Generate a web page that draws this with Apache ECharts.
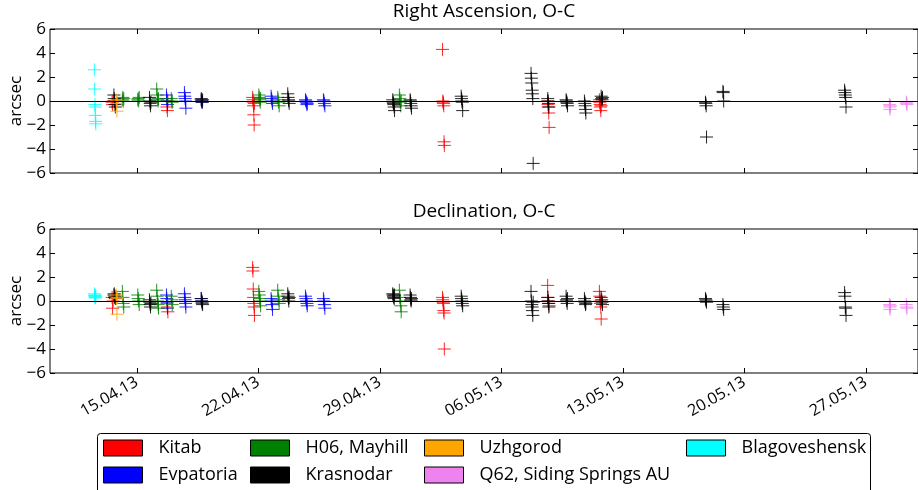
<!DOCTYPE html>
<html>
<head>
<meta charset="utf-8">
<script src="https://cdn.jsdelivr.net/npm/echarts@6/dist/echarts.min.js"></script>
<style>
  html, body { margin: 0; padding: 0; background: #fff; }
  #chart { width: 918px; height: 490px; }
</style>
</head>
<body>
<div id="chart"></div>
<script>
// observations: [time 'MM-DD HH:MM' (2013), RA O-C, Dec O-C] in arcsec
const kitab = [
  ['04-13 13:50', -0.1, 0.3], ['04-13 14:30', -0.3, -0.6], ['04-13 15:10', 0.0, 0.0],
  ['04-16 17:40', -0.5, -0.2], ['04-16 18:20', -0.8, -0.5], ['04-16 19:00', 0.0, -0.9],
  ['04-21 16:10', 0.3, 2.8], ['04-21 16:35', 0.1, 2.5], ['04-21 17:00', -0.1, 1.0],
  ['04-21 17:25', -0.4, 0.3], ['04-21 17:50', -1.15, -0.2], ['04-21 18:15', -2.0, -0.5],
  ['04-21 18:40', -0.2, -1.2],
  ['05-02 14:40', 4.3, 0.3], ['05-02 15:05', 0.0, 0.1], ['05-02 15:30', -0.1, -0.1],
  ['05-02 15:55', -0.2, -0.2], ['05-02 16:20', -0.4, -0.8], ['05-02 16:45', -3.4, -1.0],
  ['05-02 17:10', -3.7, -4.0],
  ['05-08 16:00', 0.0, 1.3], ['05-08 16:30', -0.3, 0.3], ['05-08 17:00', -0.5, 0.0],
  ['05-08 17:30', -1.0, -0.2], ['05-08 18:00', -2.2, -0.4],
  ['05-11 15:30', 0.1, 0.8], ['05-11 16:00', -0.1, 0.4], ['05-11 16:30', -0.3, 0.0],
  ['05-11 17:00', -0.5, -0.2], ['05-11 17:30', -0.8, -0.5], ['05-11 18:00', -0.4, -1.5]
];
const evpatoria = [
  ['04-16 17:00', 0.5, 0.5], ['04-16 17:30', 0.2, 0.2], ['04-16 18:00', 0.0, -0.1], ['04-16 18:30', -0.3, -0.6],
  ['04-17 17:50', 0.7, 0.6], ['04-17 18:20', 0.4, 0.3], ['04-17 18:50', 0.2, 0.1],
  ['04-17 19:20', 0.0, -0.2], ['04-17 19:50', -0.6, -0.5],
  ['04-18 17:00', 0.1, 0.2], ['04-18 17:40', 0.0, 0.0], ['04-18 18:20', -0.1, -0.2],
  ['04-22 17:40', 0.4, 0.2], ['04-22 18:20', 0.2, 0.0], ['04-22 19:00', 0.0, -0.3], ['04-22 19:40', -0.2, -0.7],
  ['04-24 17:10', 0.1, 0.4], ['04-24 17:50', 0.0, 0.2], ['04-24 18:30', -0.1, 0.0],
  ['04-24 19:10', -0.3, -0.2], ['04-24 19:40', -0.2, -0.4],
  ['04-25 18:00', 0.1, 0.2], ['04-25 18:40', 0.0, 0.0], ['04-25 19:20', -0.2, -0.3], ['04-25 20:00', -0.4, -0.6]
];
const mayhill = [
  ['04-14 04:00', 0.1, 0.8], ['04-14 04:40', 0.3, 0.3], ['04-14 05:20', 0.0, -0.2], ['04-14 06:00', 0.2, -0.5],
  ['04-15 01:20', 0.1, 0.5], ['04-15 02:00', 0.2, 0.2], ['04-15 02:40', 0.0, 0.0], ['04-15 03:20', 0.3, -0.3],
  ['04-16 03:30', 1.0, 0.9], ['04-16 04:10', 0.5, 0.4], ['04-16 04:50', 0.1, 0.0],
  ['04-16 05:30', 0.0, -0.3], ['04-16 06:00', 0.2, -0.6],
  ['04-16 23:40', 0.2, 0.4], ['04-17 00:20', 0.0, 0.1], ['04-17 01:00', -0.1, -0.3],
  ['04-22 00:40', 0.5, 0.8], ['04-22 01:20', 0.3, 0.5], ['04-22 02:00', 0.1, 0.2],
  ['04-22 02:40', -0.1, 0.0], ['04-22 03:10', 0.2, -0.4],
  ['04-23 02:50', 0.3, 0.9], ['04-23 03:30', 0.1, 0.4], ['04-23 04:10', -0.1, 0.1], ['04-23 04:50', -0.4, -0.2],
  ['04-30 03:00', 0.5, 0.9], ['04-30 03:40', 0.2, 0.3], ['04-30 04:20', -0.1, 0.0],
  ['04-30 05:00', -0.4, -0.4], ['04-30 05:30', 0.0, -0.9]
];
const krasnodar = [
  ['04-13 16:20', 0.5, 0.5], ['04-13 16:50', 0.2, 0.6], ['04-13 17:20', 0.0, 0.3],
  ['04-13 17:50', -0.3, 0.4], ['04-13 18:20', -0.5, 0.2],
  ['04-15 17:30', 0.3, 0.1], ['04-15 18:00', 0.0, -0.1], ['04-15 18:30', -0.2, -0.3],
  ['04-15 19:00', -0.4, -0.5], ['04-15 19:30', -0.1, -0.2],
  ['04-18 17:10', 0.2, 0.2], ['04-18 17:50', 0.0, 0.0], ['04-18 18:30', -0.1, -0.1], ['04-18 19:00', 0.1, -0.3],
  ['04-23 16:40', 0.6, 0.6], ['04-23 17:10', 0.3, 0.4], ['04-23 17:40', 0.1, 0.2],
  ['04-23 18:10', 0.0, 0.0], ['04-23 18:40', -0.2, 0.3],
  ['04-29 17:50', 0.1, 0.6], ['04-29 18:20', -0.1, 0.5], ['04-29 18:50', -0.2, 0.4],
  ['04-29 19:20', -0.3, 0.3], ['04-29 19:50', -0.5, 0.2], ['04-29 20:20', -0.8, 0.5],
  ['04-30 17:50', 0.1, 0.5], ['04-30 18:20', 0.0, 0.3], ['04-30 18:50', -0.2, 0.1],
  ['04-30 19:20', -0.4, 0.0], ['04-30 19:50', -0.6, 0.2],
  ['05-03 16:30', 0.4, 0.4], ['05-03 17:00', 0.2, 0.2], ['05-03 17:30', 0.0, 0.0],
  ['05-03 18:00', -0.1, -0.2], ['05-03 18:30', -0.8, -0.4],
  ['05-07 17:00', 2.3, 0.8], ['05-07 17:30', 1.9, 0.0], ['05-07 18:00', 1.5, -0.3],
  ['05-07 18:30', 0.9, -0.5], ['05-07 19:00', 0.6, -0.8], ['05-07 19:30', 0.2, -1.2], ['05-07 20:00', -5.2, -0.1],
  ['05-08 16:10', 0.2, 0.3], ['05-08 16:40', 0.0, 0.0], ['05-08 17:10', -0.2, -0.2], ['05-08 17:40', -0.5, -0.5],
  ['05-09 17:30', 0.1, 0.4], ['05-09 18:00', 0.0, 0.1], ['05-09 18:30', -0.1, 0.0],
  ['05-09 19:00', -0.2, -0.2], ['05-09 19:30', -0.4, 0.2],
  ['05-10 18:50', 0.0, 0.2], ['05-10 19:20', -0.2, 0.0], ['05-10 19:50', -0.4, -0.1],
  ['05-10 20:20', -0.7, -0.3], ['05-10 20:50', -1.0, -0.2],
  ['05-11 18:00', 0.4, 0.3], ['05-11 18:40', 0.2, 0.1], ['05-11 19:20', 0.1, -0.1], ['05-11 19:50', 0.3, -0.3],
  ['05-17 18:10', -0.1, 0.2], ['05-17 18:40', -0.2, 0.1], ['05-17 19:10', -0.4, 0.0], ['05-17 19:40', -3.0, -0.1],
  ['05-18 18:20', 0.8, -0.3], ['05-18 18:50', 0.7, -0.5], ['05-18 19:20', 0.0, -0.7],
  ['05-25 18:30', 0.9, 0.7], ['05-25 19:00', 0.7, 0.4], ['05-25 19:30', 0.5, -0.5],
  ['05-25 20:00', 0.3, -0.6], ['05-25 20:30', -0.5, -1.2]
];
const uzhgorod = [
  ['04-13 19:30', 0.1, 0.5], ['04-13 20:00', -0.2, 0.2], ['04-13 20:30', -0.85, -1.1], ['04-13 21:00', 0.0, 0.3]
];
const sidingSprings = [
  ['05-28 08:30', -0.3, -0.3], ['05-28 09:00', -0.5, -0.5], ['05-28 09:30', -0.7, -0.7], ['05-28 10:00', -0.4, -0.4],
  ['05-29 07:50', -0.1, -0.3], ['05-29 08:20', -0.2, -0.5], ['05-29 08:50', -0.3, -0.6]
];
const blagoveshensk = [
  ['04-12 13:20', 2.6, 0.6], ['04-12 13:45', 1.0, 0.45], ['04-12 14:05', -0.3, 0.35],
  ['04-12 14:20', -0.5, 0.25], ['04-12 14:40', -1.2, 0.5], ['04-12 15:00', -1.7, 0.3], ['04-12 15:20', -1.9, 0.4]
];

const stations = [
  { name: 'Kitab', color: '#ff0000', obs: kitab },
  { name: 'Evpatoria', color: '#0000ff', obs: evpatoria },
  { name: 'H06, Mayhill', color: '#008000', obs: mayhill },
  { name: 'Krasnodar', color: '#000000', obs: krasnodar },
  { name: 'Uzhgorod', color: '#ffa500', obs: uzhgorod },
  { name: 'Q62, Siding Springs AU', color: '#ee82ee', obs: sidingSprings },
  { name: 'Blagoveshensk', color: '#00ffff', obs: blagoveshensk }
];

// x axis in "day of April 2013" (1 May = 31)
const dateTicks = [15, 22, 29, 36, 43, 50, 57];

// legend slots (matplotlib ncol=4 layout)
const legendPos = {
  'Kitab': [103, 439], 'Evpatoria': [103, 466],
  'H06, Mayhill': [250, 439], 'Krasnodar': [250, 466],
  'Uzhgorod': [424, 439], 'Q62, Siding Springs AU': [424, 466],
  'Blagoveshensk': [686, 439]
};

const toDay = (s) => {
  const [md, hm] = s.split(' ');
  const [m, d] = md.split('-').map(Number);
  const [h, mi] = hm.split(':').map(Number);
  return (m === 5 ? 30 : 0) + d + (h + mi / 60) / 24;
};
const pad = (n) => (n < 10 ? '0' : '') + n;
const fmtDate = (v) => {
  const m = v > 30 ? 5 : 4;
  const d = m === 5 ? v - 30 : v;
  return pad(Math.round(d)) + '.' + pad(m) + '.13';
};
const fmtY = (v) => (v < 0 ? '\u2212' + Math.abs(v) : String(v));

const FONT = 'Open Sans';
const plus = 'path://M0,6.5L13,6.5M6.5,0L6.5,13';

const chart = echarts.init(document.getElementById('chart'), null, { renderer: 'canvas' });

const grids = [
  { left: 50, top: 29, width: 868, height: 144 },
  { left: 50, top: 229, width: 868, height: 144 }
];

const tickStyle = { inside: true, length: 5, lineStyle: { color: '#000' } };
const xAxes = [];
const yAxes = [];
grids.forEach((g, i) => {
  xAxes.push({
    type: 'value', gridIndex: i, position: 'bottom', min: 10, max: 60,
    axisLine: { show: false, onZero: false }, splitLine: { show: false },
    axisTick: Object.assign({ customValues: dateTicks }, tickStyle),
    axisLabel: {
      show: i === 1, customValues: dateTicks, formatter: fmtDate, rotate: 30, margin: 8,
      fontFamily: FONT, fontSize: 16, color: '#000'
    }
  });
  xAxes.push({
    type: 'value', gridIndex: i, position: 'top', min: 10, max: 60,
    axisLine: { show: false, onZero: false }, splitLine: { show: false }, axisLabel: { show: false },
    axisTick: Object.assign({ customValues: dateTicks }, tickStyle)
  });
  yAxes.push({
    type: 'value', gridIndex: i, position: 'left', min: -6, max: 6, interval: 2,
    axisLine: { show: false, onZero: false }, splitLine: { show: false },
    axisTick: tickStyle,
    axisLabel: { formatter: fmtY, fontFamily: FONT, fontSize: 17, color: '#000', margin: 4 }
  });
  yAxes.push({
    type: 'value', gridIndex: i, position: 'right', min: -6, max: 6, interval: 2,
    axisLine: { show: false, onZero: false }, splitLine: { show: false }, axisLabel: { show: false },
    axisTick: tickStyle
  });
});

const zeroLine = {
  silent: true, symbol: 'none', label: { show: false },
  lineStyle: { color: '#000', width: 1, type: 'solid' },
  data: [{ yAxis: 0 }]
};

const series = [];
stations.forEach((st, k) => {
  [1, 2].forEach((col, panel) => {
    series.push({
      name: st.name,
      type: 'scatter',
      xAxisIndex: panel * 2,
      yAxisIndex: panel * 2,
      symbol: plus,
      symbolSize: 13,
      itemStyle: { color: 'transparent', borderColor: st.color, borderWidth: 1, opacity: 0.85 },
      data: st.obs.map(o => [toDay(o[0]), o[col]]),
      markLine: k === 0 ? zeroLine : undefined,
      z: 3
    });
  });
});

const legends = stations.map(st => ({
  left: legendPos[st.name][0],
  top: legendPos[st.name][1],
  padding: 0,
  itemWidth: 39,
  itemHeight: 16,
  data: [{ name: st.name, icon: 'rect', itemStyle: { color: st.color, borderColor: '#000', borderWidth: 1, opacity: 1 } }],
  textStyle: { fontFamily: FONT, fontSize: 18, color: '#000', padding: [0, 0, 0, 11] }
}));

const titleStyle = { fontFamily: FONT, fontSize: 19, fontWeight: 'normal', color: '#000' };

// y axis names ("arcsec"), one per panel, centred on the panel
const yNames = grids.map(g => ({
  type: 'text', x: 16, y: g.top + g.height / 2, rotation: Math.PI / 2,
  style: { text: 'arcsec', font: '17px "' + FONT + '"', fill: '#000', align: 'center', verticalAlign: 'middle' }
}));

chart.setOption({
  animation: false,
  backgroundColor: '#fff',
  title: [
    { text: 'Right Ascension, O-C', left: 484, top: 2, textAlign: 'center', padding: 0, textStyle: titleStyle },
    { text: 'Declination, O-C', left: 484, top: 202, textAlign: 'center', padding: 0, textStyle: titleStyle }
  ],
  grid: grids.map(g => Object.assign({
    show: true, borderColor: '#000', borderWidth: 1, backgroundColor: 'transparent',
    outerBoundsMode: 'none', containLabel: false
  }, g)),
  xAxis: xAxes,
  yAxis: yAxes,
  legend: legends,
  graphic: [{
    type: 'rect', left: 97, top: 433, z: -1,
    shape: { width: 773, height: 70, r: 3 },
    style: { fill: '#fff', stroke: '#000', lineWidth: 1 }
  }].concat(yNames),
  series: series
});
</script>
</body>
</html>
